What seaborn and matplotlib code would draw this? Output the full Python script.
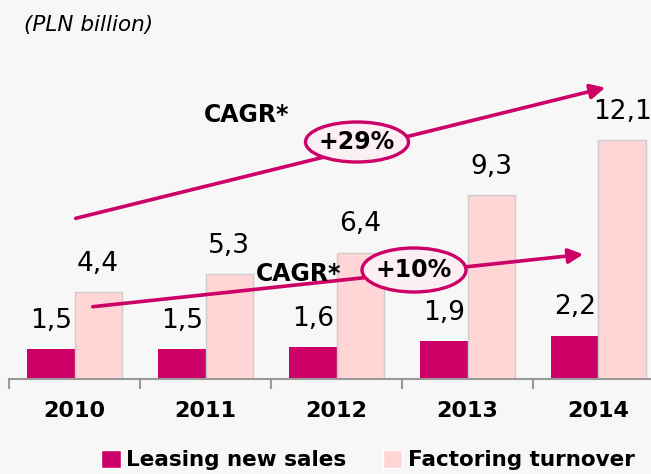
import matplotlib
matplotlib.use("Agg")
import matplotlib.pyplot as plt
import pandas as pd
import seaborn as sns
from matplotlib.patches import Ellipse, FancyArrowPatch

# data
YEARS = ["2010", "2011", "2012", "2013", "2014"]
LEASING = [1.5, 1.5, 1.6, 1.9, 2.2]
FACTORING = [4.4, 5.3, 6.4, 9.3, 12.1]
SERIES = ["Leasing new sales", "Factoring turnover"]
CAGR_LABELS = ["+29%", "+10%"]

MAGENTA = "#CC0066"
PINK = "#FFD5D5"
BG = "#F7F7F7"
W, H = 651, 474


def px(x, y):
    """pixel position in the 651x474 picture -> figure fraction"""
    return x / W, 1 - y / H


sns.set_style("white")
plt.rcParams["font.family"] = ["DejaVu Sans"]
plt.rcParams["figure.facecolor"] = BG
plt.rcParams["axes.facecolor"] = BG
plt.rcParams["text.color"] = "black"
plt.rcParams["xtick.color"] = "#999999"
plt.rcParams["xtick.labelcolor"] = "black"

df = pd.DataFrame({
    "year": YEARS * 2,
    "value": LEASING + FACTORING,
    "series": [SERIES[0]] * len(YEARS) + [SERIES[1]] * len(YEARS),
})

fig = plt.figure(figsize=(6.51, 4.74), dpi=100)
# chart is cropped on the right in the reference, so the axes run past the edge
ax = fig.add_axes([9 / W, (H - 379) / H, 655 / W, 379 / H])

sns.barplot(data=df, x="year", y="value", hue="series",
            palette=[MAGENTA, PINK], saturation=1, width=0.72, ax=ax)

handles, labels = ax.get_legend_handles_labels()
ax.get_legend().remove()

for i, (cont, vals) in enumerate(zip(ax.containers, [LEASING, FACTORING])):
    for bar in cont:
        if i == 1:
            bar.set_edgecolor("#CCCCCC")
            bar.set_linewidth(1)
        else:
            bar.set_linewidth(0)
    ax.bar_label(cont, labels=[f"{v:.1f}".replace(".", ",") for v in vals],
                 padding=11, fontsize=19, color="black")

ax.set_ylim(0, 379 / 19.75)
ax.set_xlim(-0.5, 4.5)
ax.set_xlabel("")
ax.set_ylabel("")
ax.set_yticks([])
for s in ["top", "right", "left"]:
    ax.spines[s].set_visible(False)
ax.spines["bottom"].set_color("#999999")
ax.spines["bottom"].set_linewidth(1.5)

ax.set_xticks(range(len(YEARS)))
ax.set_xticklabels(YEARS, fontsize=16, fontweight="bold")
ax.tick_params(axis="x", which="major", length=0, pad=16)
ax.set_xticks([i - 0.5 for i in range(len(YEARS) + 1)], minor=True)
ax.tick_params(axis="x", which="minor", bottom=True, direction="out",
               length=7, width=1.5, color="#999999")

# CAGR arrows
for (x0, y0), (x1, y1) in [((73, 219), (608, 87)), ((90, 307), (586, 254))]:
    arr = FancyArrowPatch(px(x0, y0), px(x1, y1), transform=fig.transFigure,
                          arrowstyle="-|>", mutation_scale=22, lw=2.6,
                          color=MAGENTA, zorder=5)
    fig.patches.append(arr)

# ellipses with growth rates
for (cx, cy, ew, eh), lab in zip([(357, 142, 103, 40), (414, 270, 104, 44)], CAGR_LABELS):
    x, y = px(cx, cy)
    ell = Ellipse((x, y), ew / W, eh / H, transform=fig.transFigure,
                  facecolor="#FBEFF4", edgecolor=MAGENTA, lw=2.4, zorder=6)
    fig.patches.append(ell)
    fig.text(x, y, lab, ha="center", va="center", fontsize=17,
             fontweight="bold", zorder=7)

for (cx, cy) in [(247, 115), (299, 274)]:
    fig.text(*px(cx, cy), "CAGR*", ha="center", va="center", fontsize=17,
             fontweight="bold", zorder=7)

fig.text(*px(24, 25), "(PLN billion)", ha="left", va="center", fontsize=15.5,
         fontstyle="italic")

fig.legend(handles, labels, loc="center", bbox_to_anchor=px(368, 460),
           ncol=2, frameon=False, handlelength=0.9,
           handleheight=0.9, handletextpad=0.25, columnspacing=1.7,
           prop={"weight": "bold", "size": 15.5})

fig.savefig("out.png", dpi=100, facecolor=BG)
